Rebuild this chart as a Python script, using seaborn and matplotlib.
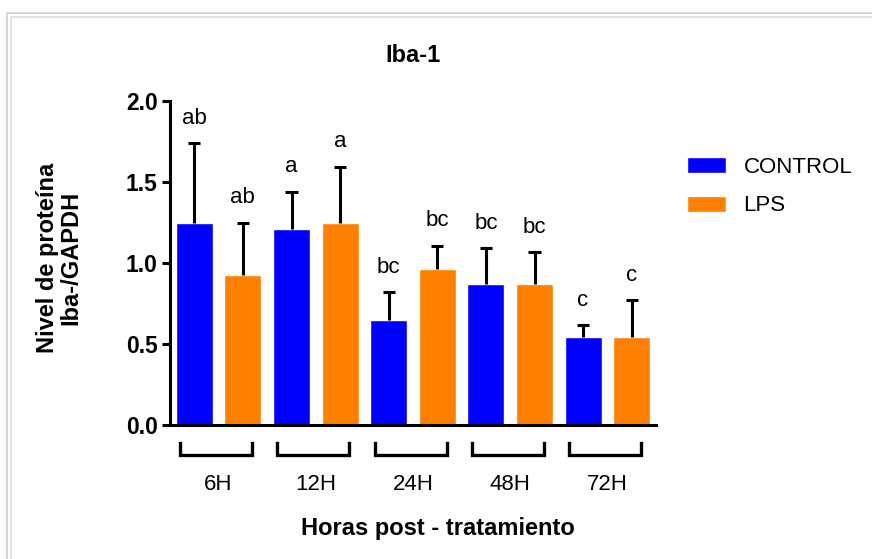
import numpy as np
import pandas as pd
import matplotlib
matplotlib.use("Agg")
import matplotlib.pyplot as plt
from matplotlib.lines import Line2D
import seaborn as sns


# Values
tiempos = ["6H", "12H", "24H", "48H", "72H"]
control_media = [1.25, 1.21, 0.65, 0.87, 0.545]
control_err = [0.49, 0.23, 0.17, 0.22, 0.07]
lps_media = [0.925, 1.245, 0.965, 0.87, 0.545]
lps_err = [0.325, 0.35, 0.14, 0.195, 0.225]
letras_control = ["ab", "a", "bc", "bc", "c"]
letras_lps = ["ab", "a", "bc", "bc", "c"]
grupos = ["CONTROL", "LPS"]
colores = {"CONTROL": "#0000ff", "LPS": "#ff7f00"}


#Build a long table, control and LPS side by side for each time
filas = []
for i, t in enumerate(tiempos):
    filas.append({"cond": f"{t} CONTROL", "grupo": "CONTROL",
                  "valor": control_media[i], "err": control_err[i],
                  "letra": letras_control[i]})
    filas.append({"cond": f"{t} LPS", "grupo": "LPS",
                  "valor": lps_media[i], "err": lps_err[i],
                  "letra": letras_lps[i]})
df = pd.DataFrame(filas)

sns.set_style("ticks", {"axes.edgecolor": "black", "text.color": "black",
                        "axes.labelcolor": "black", "xtick.color": "black",
                        "ytick.color": "black"})
plt.rcParams['font.family'] = ['Liberation Sans', 'DejaVu Sans']

fig = plt.figure(figsize=(8.72, 5.59), dpi=100)
ax = fig.add_axes([170 / 872, 1 - 425 / 559, 486 / 872, 324 / 559])

sns.barplot(data=df, x="cond", y="valor", hue="grupo", hue_order=grupos,
            palette=colores, dodge=False, width=0.76, errorbar=None,
            saturation=1, ax=ax)

#Upper error bars only
x = np.arange(len(df))
arriba = df["valor"] + df["err"]
ax.vlines(x, df["valor"], arriba, color="black", lw=2.2, zorder=3)
ax.hlines(arriba, x - 0.125, x + 0.125, color="black", lw=2.2, zorder=3)

#Significance letters
for xi, yt, l in zip(x, arriba, df["letra"]):
    ax.text(xi, yt + 0.155, l, ha="center", va="center", fontsize=16)

#Brackets under each time group
for i in range(len(tiempos)):
    c = 2 * i + 0.45
    ax.plot([c - 0.74, c - 0.74, c + 0.74, c + 0.74],
            [-0.11, -0.188, -0.188, -0.11], color="black", lw=2.4,
            clip_on=False, solid_joinstyle="miter",
            solid_capstyle="projecting")

ax.set_xlim(-0.5, 9.5)
ax.set_ylim(0, 2)
ax.set_xticks([2 * i + 0.5 for i in range(len(tiempos))])
ax.set_xticklabels(tiempos, fontsize=16)
ax.tick_params(axis="x", length=0, pad=35)
ax.set_yticks([0, 0.5, 1.0, 1.5, 2.0])
ax.set_yticklabels(["0.0", "0.5", "1.0", "1.5", "2.0"], fontsize=16.5,
                   fontweight="bold")
ax.tick_params(axis="y", length=6, width=2.2, pad=3)

sns.despine(ax=ax)
for s in ["left", "bottom"]:
    ax.spines[s].set_linewidth(2.2)

ax.set_title("Iba-1", fontsize=17, fontweight="bold",
             family=["Liberation Sans Narrow", "Liberation Sans"], pad=28)
ax.set_xlabel("Horas post - tratamiento", fontsize=17, fontweight="bold")
ax.xaxis.set_label_coords(0.551, -0.284)
ax.set_ylabel("Nivel de proteína\nIba-/GAPDH", fontsize=17,
              fontweight="bold", linespacing=1.05)
ax.yaxis.set_label_coords(-0.18, 0.515)

sns.move_legend(ax, "upper left", bbox_to_anchor=(687 / 872, 1 - 157 / 559),
                bbox_transform=fig.transFigure, frameon=False, title=None,
                fontsize=16, handlelength=1.77, handleheight=0.73,
                handletextpad=0.77, labelspacing=0.78, borderpad=0,
                borderaxespad=0)

#Thin double grey frame around the picture
W, H = 872, 559
for off, col in [(7, "#d6d6d6"), (11, "#e2e2e2")]:
    top = off + 6
    fig.add_artist(Line2D([off / W, 1], [1 - top / H, 1 - top / H],
                          transform=fig.transFigure, color=col, lw=1.5))
    fig.add_artist(Line2D([off / W, off / W], [0, 1 - top / H],
                          transform=fig.transFigure, color=col, lw=1.5))

fig.savefig("out.png", dpi=100)
